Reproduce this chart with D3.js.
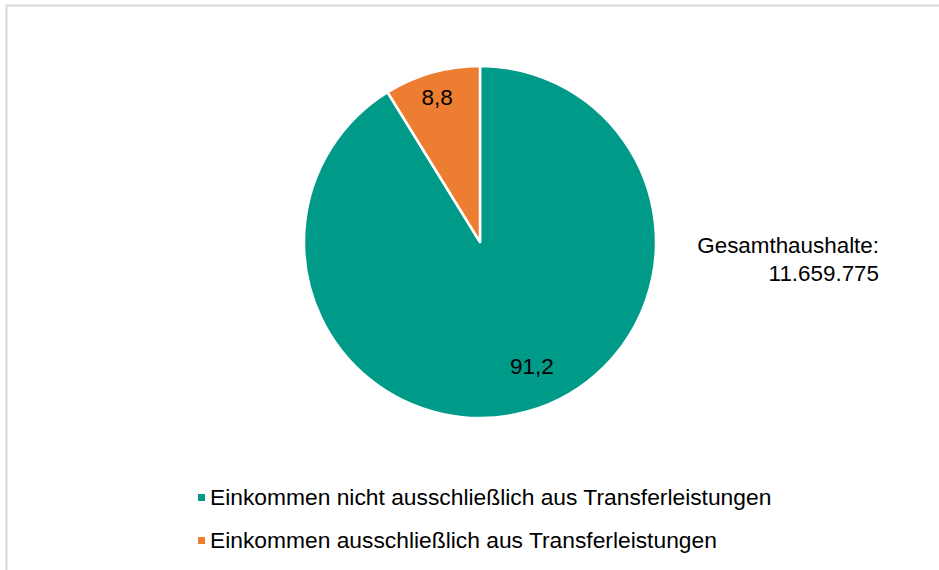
<!DOCTYPE html>
<html>
<head>
<meta charset="utf-8">
<script src="https://cdn.jsdelivr.net/npm/d3@7"></script>
<style>
  html, body { margin: 0; padding: 0; background: #fff; }
  svg { display: block; font-family: "Liberation Sans", Arial, sans-serif; }
</style>
</head>
<body>
<svg id="chart" width="939" height="570"></svg>
<script>
// ---- data ----
const categories = [
  "Einkommen nicht ausschließlich aus Transferleistungen",
  "Einkommen ausschließlich aus Transferleistungen"
];
const values = [91.2, 8.8];
const valueLabels = ["91,2", "8,8"];
const colors = ["#009B88", "#ED7D31"];
const totalLabel = ["Gesamthaushalte:", "11.659.775"];
// label nudges (px) relative to the arc centroid, as placed in the original
const labelNudge = [[11, -20], [-2, -1]];

const svg = d3.select("#chart");

// chart frame (cropped on the right / bottom in the original)
svg.append("rect")
  .attr("x", 6.5).attr("y", 5.5)
  .attr("width", 940).attr("height", 600)
  .attr("fill", "#fff")
  .attr("stroke", "#D9D9D9").attr("stroke-width", 2);

const cx = 480, cy = 242, R = 176;
const g = svg.append("g").attr("transform", `translate(${cx},${cy})`);

const pie = d3.pie().sort(null).value(d => d)(values);
const arc = d3.arc().innerRadius(0).outerRadius(R);
const labelArc = d3.arc().innerRadius(150).outerRadius(150);

g.selectAll("path.slice")
  .data(pie)
  .join("path")
  .attr("class", "slice")
  .attr("d", arc)
  .attr("fill", (d, i) => colors[i])
  .attr("stroke", "#fff")
  .attr("stroke-width", 2.5)
  .attr("stroke-linejoin", "round");

g.selectAll("text.vlabel")
  .data(pie)
  .join("text")
  .attr("class", "vlabel")
  .attr("x", (d, i) => labelArc.centroid(d)[0] + labelNudge[i][0])
  .attr("y", (d, i) => labelArc.centroid(d)[1] + labelNudge[i][1])
  .attr("dy", "0.36em")
  .attr("text-anchor", "middle")
  .attr("font-size", 22.5)
  .attr("fill", "#000")
  .text((d, i) => valueLabels[i]);

// total annotation
svg.append("text")
  .attr("text-anchor", "end")
  .attr("font-size", 22.4)
  .attr("fill", "#000")
  .selectAll("tspan")
  .data(totalLabel)
  .join("tspan")
  .attr("x", 879)
  .attr("y", (d, i) => 253 + i * 28)
  .text(d => d);

// legend
const leg = svg.append("g").attr("transform", "translate(198,0)");
const legRows = leg.selectAll("g")
  .data(categories)
  .join("g")
  .attr("transform", (d, i) => `translate(0,${505 + i * 43})`);
legRows.append("rect")
  .attr("x", 0).attr("y", -11)
  .attr("width", 7).attr("height", 7)
  .attr("fill", (d, i) => colors[i]);
legRows.append("text")
  .attr("x", 12).attr("y", 0)
  .attr("font-size", 22.8)
  .attr("fill", "#000")
  .text(d => d);
</script>
</body>
</html>
